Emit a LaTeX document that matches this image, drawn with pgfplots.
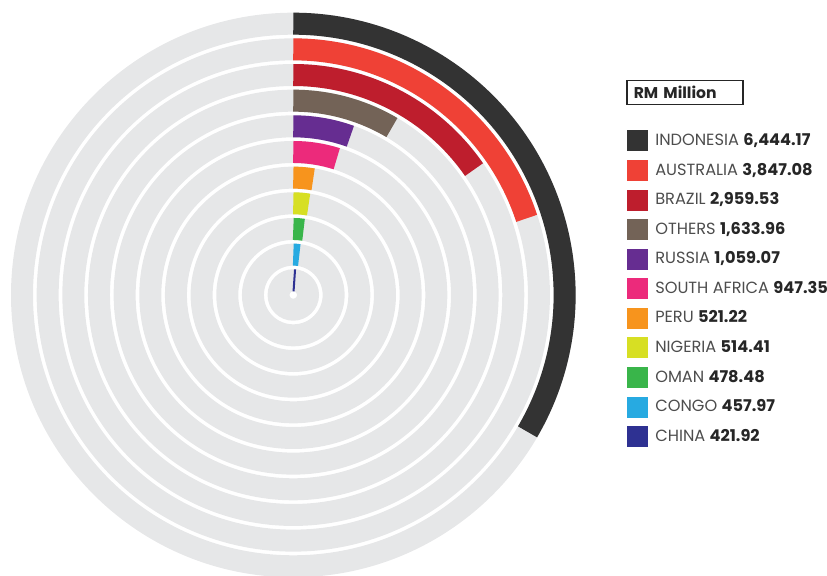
\documentclass[border=0pt]{standalone}
\usepackage{fontspec}
\setmainfont{Poppins}
\usepackage{pgfplots}
\pgfplotsset{compat=1.18}

% colours
\definecolor{ringgrey}{HTML}{E6E7E8}
\definecolor{cIndonesia}{HTML}{333333}
\definecolor{cAustralia}{HTML}{EF4136}
\definecolor{cBrazil}{HTML}{BE1E2D}
\definecolor{cOthers}{HTML}{736357}
\definecolor{cRussia}{HTML}{662D91}
\definecolor{cSouthAfrica}{HTML}{EC2A7B}
\definecolor{cPeru}{HTML}{F7941D}
\definecolor{cNigeria}{HTML}{D7DF23}
\definecolor{cOman}{HTML}{39B54A}
\definecolor{cCongo}{HTML}{27AAE1}
\definecolor{cChina}{HTML}{2E3192}
\definecolor{txt}{HTML}{4D4D4D}

% sum of all values = full turn (kept /100 for pgfmath's range)
\newcommand\totalh{192.8516}
% ring k (0 = innermost) has its middle at this radius (axis units)
\newcommand\ringr[1]{(14.7+25.66*(#1))}

% arc mark: drawn from the bar's end back to 12 o'clock
\pgfdeclareplotmark{ringarc}{%
  \pgfmathsetmacro\sa{90-\vv/\totalh*3.6}%
  \pgfmathsetlengthmacro\rad{\ringr{\kk}*0.5pt}%
  \pgfpathmoveto{\pgfpointorigin}%
  \pgfpatharc{\sa}{90}{\rad}%
  \pgfusepath{stroke}%
}
% full grey track
\pgfdeclareplotmark{fullring}{%
  \pgfmathsetlengthmacro\rad{\ringr{\kk}*0.5pt}%
  \pgfpathcircle{\pgfpoint{0pt}{-\rad}}{\rad}%
  \pgfusepath{stroke}%
}

\pgfplotsset{
  table/radial/.style={
    row sep=\\,
    x expr={\ringr{\thisrow{k}}*sin(\thisrow{v}/\totalh*3.6)},
    y expr={\ringr{\thisrow{k}}*cos(\thisrow{v}/\totalh*3.6)},
  },
  radialbar/.style={
    only marks, mark=ringarc, color=#1, line width=11pt,
    visualization depends on={value \thisrow{v} \as \vv},
    visualization depends on={value \thisrow{k} \as \kk},
  },
}

\begin{document}
\begin{tikzpicture}
\begin{axis}[
    x=0.5pt, y=0.5pt,
    xmin=-293.3, xmax=533.7,
    ymin=-281, ymax=295,
    hide axis,
    clip=false,
    legend image code/.code={\fill[#1, draw=none, line width=0pt]
        (0pt,-5.25pt) rectangle (10.5pt,5.25pt);},
    legend cell align=left,
    legend style={
        at={(axis cs:333.4,165)}, anchor=north west,
        draw=none, fill=none, inner sep=0pt,
        row sep=4.29pt, column sep=3.6pt,
        font=\fontsize{8.1}{10}\selectfont, text=txt,
        nodes={inner sep=0pt},
    },
]

% grey tracks
\addplot[forget plot, only marks, mark=fullring, color=ringgrey, line width=11pt,
    visualization depends on={value \thisrow{k} \as \kk}]
    table[row sep=\\, x expr=0, y expr={\ringr{\thisrow{k}}}] {
    k\\ 0\\ 1\\ 2\\ 3\\ 4\\ 5\\ 6\\ 7\\ 8\\ 9\\ 10\\
};

\addplot[radialbar=cIndonesia] table[radial] {k v\\ 10 6444.17\\};
\addlegendentry{INDONESIA \textbf{\color{black!85}6,444.17}}
\addplot[radialbar=cAustralia] table[radial] {k v\\ 9 3847.08\\};
\addlegendentry{AUSTRALIA \textbf{\color{black!85}3,847.08}}
\addplot[radialbar=cBrazil] table[radial] {k v\\ 8 2959.53\\};
\addlegendentry{BRAZIL \textbf{\color{black!85}2,959.53}}
\addplot[radialbar=cOthers] table[radial] {k v\\ 7 1633.96\\};
\addlegendentry{OTHERS \textbf{\color{black!85}1,633.96}}
\addplot[radialbar=cRussia] table[radial] {k v\\ 6 1059.07\\};
\addlegendentry{RUSSIA \textbf{\color{black!85}1,059.07}}
\addplot[radialbar=cSouthAfrica] table[radial] {k v\\ 5 947.35\\};
\addlegendentry{SOUTH AFRICA \textbf{\color{black!85}947.35}}
\addplot[radialbar=cPeru] table[radial] {k v\\ 4 521.22\\};
\addlegendentry{PERU \textbf{\color{black!85}521.22}}
\addplot[radialbar=cNigeria] table[radial] {k v\\ 3 514.41\\};
\addlegendentry{NIGERIA \textbf{\color{black!85}514.41}}
\addplot[radialbar=cOman] table[radial] {k v\\ 2 478.48\\};
\addlegendentry{OMAN \textbf{\color{black!85}478.48}}
\addplot[radialbar=cCongo] table[radial] {k v\\ 1 457.97\\};
\addlegendentry{CONGO \textbf{\color{black!85}457.97}}
\addplot[radialbar=cChina] table[radial] {k v\\ 0 421.92\\};
\addlegendentry{CHINA \textbf{\color{black!85}421.92}}

\node[draw=black!85, line width=0.75pt, anchor=north west,
      minimum width=58pt, minimum height=12pt, inner xsep=3.5pt, inner ysep=0pt,
      text width=51pt, align=left, font=\fontsize{7.8}{9}\selectfont\bfseries,
      text=black!85]
    at (axis cs:332.7,215) {RM Million};
\end{axis}
\pgfresetboundingbox
\path (current axis.south west) rectangle (current axis.north east);
\end{tikzpicture}
\end{document}
